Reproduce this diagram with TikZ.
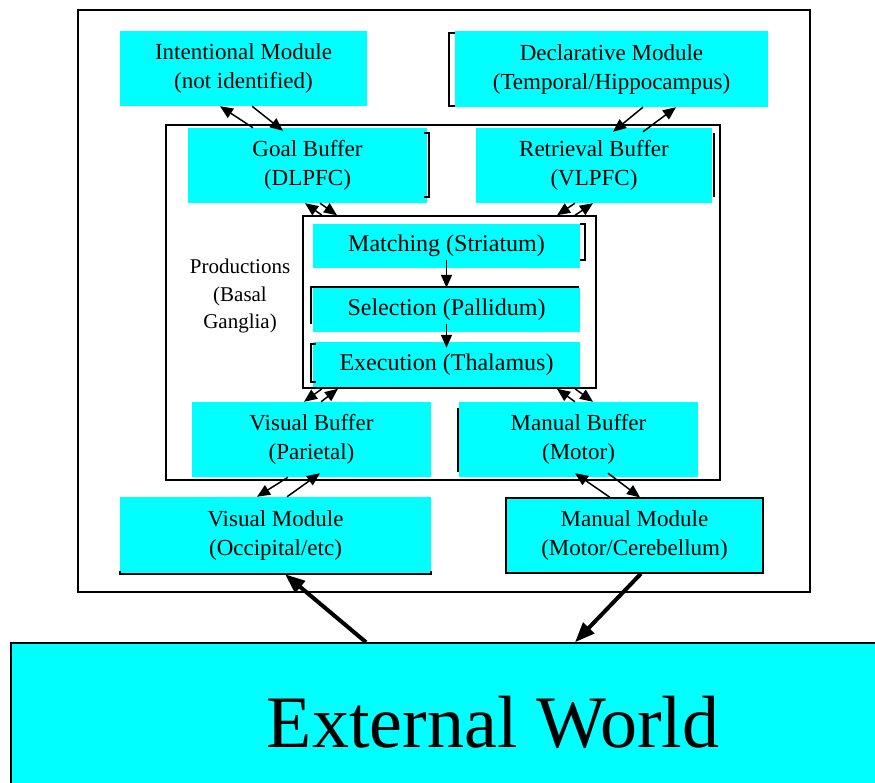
\documentclass[tikz,border=0pt]{standalone}
\usepackage{fontspec}
\setmainfont{Liberation Serif}
\usetikzlibrary{arrows.meta,calc}
\definecolor{boxcyan}{RGB}{0,255,255}
\begin{document}
\begin{tikzpicture}[x=1pt,y=-1pt,
  cbox/.style={fill=boxcyan, draw=none, inner sep=0pt, align=center, font=\fontsize{23}{29}\selectfont},
  pbox/.style={cbox, font=\fontsize{24}{29}\selectfont},
  frame/.style={draw, line width=1.5pt, inner sep=0pt},
  edge/.style={line width=1.4pt},
  arr/.style={-{Triangle[length=13pt,width=11pt]}, line width=1.5pt},
  bigarr/.style={-{Triangle[length=20pt,width=15pt]}, line width=4pt}]
\useasboundingbox (0,0) rectangle (875,783);
\fill[white] (0,0) rectangle (875,783);

% frames
\node[frame, minimum width=732pt, minimum height=582pt] (outer) at (444,301) {};
\node[frame, minimum width=554pt, minimum height=355pt] (inner) at (443,302.5) {};
\node[frame, minimum width=293pt, minimum height=172pt] (prodbox) at (449.5,302) {};

% modules and buffers
\node[cbox, minimum width=247pt, minimum height=75pt] (intent) at (243.5,68.5) {Intentional Module\\(not identified)};
\node[cbox, minimum width=313pt, minimum height=76pt] (decl) at (611.5,69) {Declarative Module\\(Temporal/Hippocampus)};
\node[cbox, minimum width=239pt, minimum height=75pt] (goal) at (307.5,165.5) {Goal Buffer\\(DLPFC)};
\node[cbox, minimum width=236pt, minimum height=75pt] (retr) at (594,165.5) {Retrieval Buffer\\(VLPFC)};
\node[pbox, minimum width=267pt, minimum height=44pt] (match) at (446.5,246) {Matching (Striatum)};
\node[pbox, minimum width=267pt, minimum height=44pt] (sel) at (446.5,310) {Selection (Pallidum)};
\node[pbox, minimum width=267pt, minimum height=45pt] (exec) at (446.5,364.5) {Execution (Thalamus)};
\node[cbox, minimum width=239pt, minimum height=75pt] (vbuf) at (311.5,439.5) {Visual Buffer\\(Parietal)};
\node[cbox, minimum width=239pt, minimum height=75pt] (mbuf) at (578.5,439.5) {Manual Buffer\\(Motor)};
\node[cbox, minimum width=311pt, minimum height=77pt] (vmod) at (275.5,535.5) {Visual Module\\(Occipital/etc)};
\node[cbox, draw, line width=1.2pt, minimum width=257pt, minimum height=75pt] (mmod) at (634.5,535.5) {Manual Module\\(Motor/Cerebellum)};
\node[align=center, inner sep=0pt, font=\fontsize{21}{27.5}\selectfont] (prodlabel) at (240,296) {Productions\\(Basal\\Ganglia)};

% external world
\node[frame, fill=boxcyan, minimum width=889pt, minimum height=177pt] (world) at (455.5,731.5) {};
\node[inner sep=0pt, font=\fontsize{74}{80}\selectfont] (worldtext) at (493,722) {External World};

% partial box edges
\draw[edge] (455,33) -- (449,33) -- (449,106) -- (455,106);
\draw[edge] (424,133) -- (429,133) -- (429,197) -- (424,197);
\draw[edge] (714,133) -- (714,197);
\draw[edge] (580,224) -- (585,224) -- (585,260) -- (580,260);
\draw[edge] (311,324) -- (311,287) -- (579,287);
\draw[edge] (316,344) -- (311,344) -- (311,382) -- (316,382);
\draw[edge] (458,408) -- (458,472);
\draw[edge] (120,571) -- (120,574) -- (431,574) -- (431,571);

% connectors
\draw[arr] ($(goal.north)+(-54.5,0)$) -- ($(intent.south)+(-23.5,0)$);
\draw[arr] ($(intent.south)+(8.5,0)$) -- ($(goal.north)+(-24.5,3)$);
\draw[arr] ($(decl.south)+(31.5,0)$) -- ($(retr.north)+(19,4)$);
\draw[arr] ($(retr.north)+(49,4)$) -- ($(decl.south)+(64.5,0)$);
\draw[arr] ($(prodbox.north)+(-127.5,0)$) -- ($(goal.south)+(-2.5,0)$);
\draw[arr] ($(goal.south)+(12.5,0)$) -- ($(prodbox.north)+(-112.5,0)$);
\draw[arr] ($(retr.south)+(-19,0)$) -- ($(prodbox.north)+(107.5,0)$);
\draw[arr] ($(prodbox.north)+(125.5,0)$) -- ($(retr.south)+(-1,0)$);
\draw[arr] ($(prodbox.south)+(-127.5,0)$) -- ($(vbuf.north)+(-7.5,0)$);
\draw[arr] ($(vbuf.north)+(9.5,0)$) -- ($(prodbox.south)+(-111.5,0)$);
\draw[arr] ($(mbuf.north)+(-3.5,0)$) -- ($(prodbox.south)+(107.5,0)$);
\draw[arr] ($(prodbox.south)+(125.5,0)$) -- ($(mbuf.north)+(14.5,0)$);
\draw[arr] ($(match.south)+(0,-8)$) -- (sel.north);
\draw[arr] ($(sel.south)+(0,-8)$) -- ($(exec.north)+(0,6)$);
\draw[arr] ($(vbuf.south)+(-23.5,0)$) -- ($(vmod.north)+(-18.5,0)$);
\draw[arr] ($(vmod.north)+(11.5,0)$) -- ($(vbuf.south)+(8.5,-4)$);
\draw[arr] ($(mmod.north)+(-24.5,0)$) -- ($(mbuf.south)+(-3.5,-4)$);
\draw[arr] ($(mbuf.south)+(29.5,-4)$) -- ($(mmod.north)+(5.5,0)$);
\draw[bigarr] ($(world.north)+(-89.5,0)$) -- ($(vmod.south)+(9.5,0)$);
\draw[bigarr] ($(mmod.south)+(6.5,0)$) -- ($(world.north)+(119.5,0)$);
\end{tikzpicture}
\end{document}
